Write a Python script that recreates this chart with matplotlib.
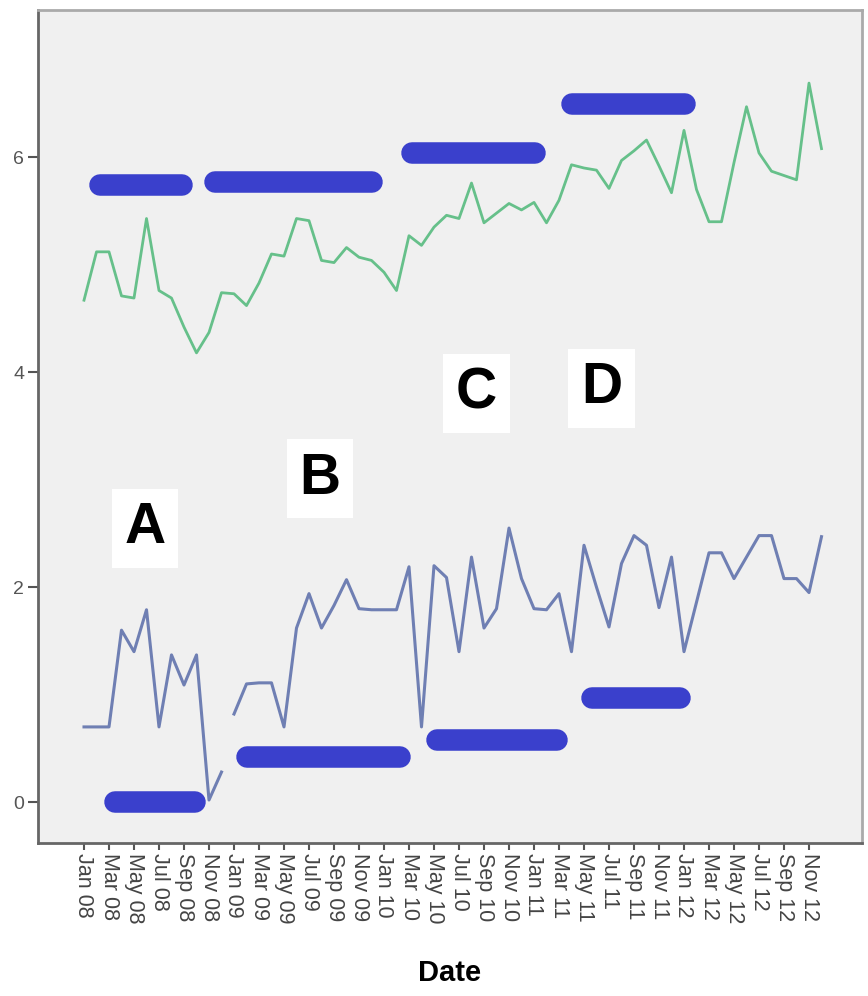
import matplotlib
matplotlib.use("Agg")
import matplotlib.pyplot as plt
from matplotlib import font_manager

# ---------------- data ----------------
tick_labels = ["Jan 08", "Mar 08", "May 08", "Jul 08", "Sep 08", "Nov 08",
               "Jan 09", "Mar 09", "May 09", "Jul 09", "Sep 09", "Nov 09",
               "Jan 10", "Mar 10", "May 10", "Jul 10", "Sep 10", "Nov 10",
               "Jan 11", "Mar 11", "May 11", "Jul 11", "Sep 11", "Nov 11",
               "Jan 12", "Mar 12", "May 12", "Jul 12", "Sep 12", "Nov 12"]

green_series = [4.67, 5.12, 5.12, 4.71, 4.69, 5.43, 4.76, 4.69, 4.42, 4.18,
                4.37, 4.74, 4.73, 4.62, 4.83, 5.10, 5.08, 5.43, 5.41, 5.04,
                5.02, 5.16, 5.07, 5.04, 4.93, 4.76, 5.27, 5.18, 5.35, 5.46,
                5.43, 5.76, 5.39, 5.48, 5.57, 5.51, 5.58, 5.39, 5.60, 5.93,
                5.90, 5.88, 5.71, 5.97, 6.06, 6.16, 5.92, 5.67, 6.25, 5.70,
                5.40, 5.40, 5.95, 6.47, 6.04, 5.87, 5.83, 5.79, 6.69, 6.08]

blue_series = [0.70, 0.70, 0.70, 1.60, 1.40, 1.79, 0.70, 1.37, 1.09, 1.37,
               0.02, 0.28, 0.82, 1.10, 1.11, 1.11, 0.70, 1.62, 1.94, 1.62,
               1.83, 2.07, 1.80, 1.79, 1.79, 1.79, 2.19, 0.70, 2.20, 2.09,
               1.40, 2.28, 1.62, 1.80, 2.55, 2.08, 1.80, 1.79, 1.94, 1.40,
               2.39, 2.00, 1.63, 2.22, 2.48, 2.39, 1.81, 2.28, 1.40, 1.86,
               2.32, 2.32, 2.08, 2.28, 2.48, 2.48, 2.08, 2.08, 1.95, 2.47]
blue_break = 12  # blue line restarts at this month (gap before it)

# thick period bars (month index start/end, level)
top_bar_start = [1.3, 10.5, 26.2, 39.0]
top_bar_end = [7.8, 23.0, 36.1, 48.1]
top_bar_level = [5.74, 5.77, 6.04, 6.50]
bot_bar_start = [2.5, 13.0, 28.2, 40.6]
bot_bar_end = [8.9, 25.3, 37.8, 47.7]
bot_bar_level = [0.0, 0.42, 0.58, 0.97]

period_labels = ["A", "B", "C", "D"]
period_label_x = [4.9, 18.9, 31.4, 41.4]
period_label_y = [2.55, 3.01, 3.80, 3.85]

# ---------------- fonts ----------------
names = {f.name for f in font_manager.fontManager.ttflist}
narrow = "Liberation Sans Narrow" if "Liberation Sans Narrow" in names else "Liberation Sans"

months = list(range(len(green_series)))

fig = plt.figure(figsize=(8.68, 9.96), dpi=100)
ax = fig.add_axes([38 / 868, 153 / 996, 824 / 868, 833 / 996])
ax.set_facecolor("#f0f0f0")

ax.plot(months, green_series, color="#66c08a", lw=2.0, zorder=3)
ax.plot(months[:blue_break], blue_series[:blue_break], color="#6f7fb3", lw=2.2, zorder=3)
ax.plot(months[blue_break:], blue_series[blue_break:], color="#6f7fb3", lw=2.2, zorder=3)

bar_color = "#3a40cc"
for s, e, lv in zip(top_bar_start, top_bar_end, top_bar_level):
    ax.plot([s, e], [lv, lv], color=bar_color, lw=15.5, solid_capstyle="round", zorder=4)
for s, e, lv in zip(bot_bar_start, bot_bar_end, bot_bar_level):
    ax.plot([s, e], [lv, lv], color=bar_color, lw=15.5, solid_capstyle="round", zorder=4)

for lab, x, y in zip(period_labels, period_label_x, period_label_y):
    ax.text(x, y, lab, family=narrow, fontsize=41, fontweight="bold", color="black",
            ha="center", va="center",
            bbox=dict(boxstyle="square,pad=0.22", facecolor="white", edgecolor="none"), zorder=5)

ax.set_xlim(-3.68, 62.24)
ax.set_ylim(-0.38, 7.37)
ax.set_xticks(months[::2])
ax.set_xticklabels(tick_labels, rotation=-90, family=narrow, fontsize=15.5, color="#444444")
ax.set_yticks([0, 2, 4, 6])
ax.set_yticklabels(["0", "2", "4", "6"], family=narrow, fontsize=14, color="#555555")
ax.tick_params(axis="x", length=5, width=1.5, color="#555555", pad=2)
ax.tick_params(axis="y", length=7, width=1.5, color="#555555", pad=3)

for side in ["left", "bottom"]:
    ax.spines[side].set_color("#666666")
    ax.spines[side].set_linewidth(2)
for side in ["top", "right"]:
    ax.spines[side].set_color("#aaaaaa")
    ax.spines[side].set_linewidth(2)

ax.set_xlabel("Date", family=narrow, fontsize=21, fontweight="bold", labelpad=26)

fig.savefig("out.png", dpi=100)
